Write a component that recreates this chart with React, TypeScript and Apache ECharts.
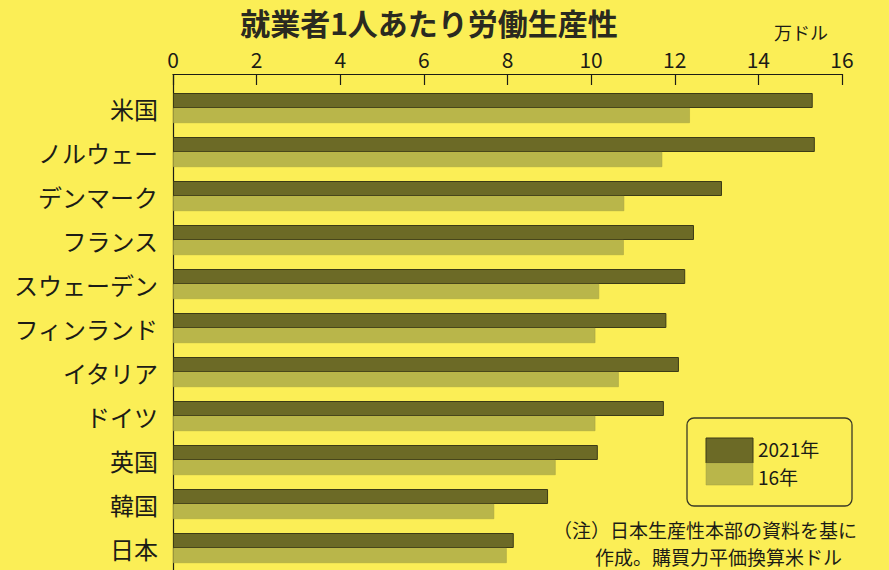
import React, { useEffect, useRef } from "react";
import * as echarts from "echarts";

const categories = ["米国", "ノルウェー", "デンマーク", "フランス", "スウェーデン", "フィンランド", "イタリア", "ドイツ", "英国", "韓国", "日本"];
const values2021 = [15.3, 15.35, 13.13, 12.46, 12.25, 11.8, 12.1, 11.74, 10.16, 8.97, 8.15];
const values2016 = [12.36, 11.7, 10.79, 10.78, 10.19, 10.1, 10.66, 10.1, 9.15, 7.68, 7.98];
const seriesNames = ["2021年", "16年"];
const xTicks = { min: 0, max: 16, interval: 2 };
const noteLines = ["（注）日本生産性本部の資料を基に", "作成。購買力平価換算米ドル"];

const BG = "#fbee56";
const DARK = "#6c6a26";
const LIGHT = "#b9b64a";
const INK = "#1c1c16";
const JP = "'Noto Sans CJK JP', 'Noto Sans', sans-serif";
const NUM = "'Liberation Sans Narrow', 'Noto Sans CJK JP', sans-serif";

export default function App() {
  const ref = useRef<HTMLDivElement>(null);
  useEffect(() => {
    document.body.style.margin = "0";
    const chart = echarts.init(ref.current!, undefined, { renderer: "svg" });
    chart.setOption({
      animation: false,
      backgroundColor: BG,
      textStyle: { fontFamily: JP },
      grid: { left: 173, top: 86, width: 669, height: 486, containLabel: false },
      xAxis: {
        type: "value",
        position: "top",
        min: xTicks.min,
        max: xTicks.max,
        interval: xTicks.interval,
        offset: 12,
        axisLine: { show: true, lineStyle: { color: INK, width: 1.2 } },
        axisTick: { show: true, inside: true, length: 11, lineStyle: { color: INK, width: 1.2 } },
        axisLabel: { color: INK, fontSize: 21, fontFamily: NUM, margin: 5 },
        splitLine: { show: false },
      },
      yAxis: {
        type: "category",
        data: categories,
        inverse: true,
        axisLine: { show: true, lineStyle: { color: INK, width: 1.2 } },
        axisTick: { show: false },
        axisLabel: { color: INK, fontSize: 24, margin: 15, fontFamily: JP },
      },
      series: [
        {
          name: seriesNames[0],
          type: "bar",
          data: values2021,
          barWidth: 15,
          barGap: "0%",
          itemStyle: { color: DARK, borderColor: "#3c3b16", borderWidth: 1 },
        },
        {
          name: seriesNames[1],
          type: "bar",
          data: values2016,
          barWidth: 15,
          barGap: "0%",
          itemStyle: { color: LIGHT, borderColor: "#a29f40", borderWidth: 0.5 },
        },
      ],
      graphic: [
        {
          type: "text",
          x: 429,
          y: 22,
          style: {
            text: "就業者1人あたり労働生産性",
            fontSize: 30,
            fontWeight: "bold",
            fill: "#2a2a20",
            fontFamily: JP,
            align: "center",
            verticalAlign: "middle",
          },
        },
        {
          type: "text",
          x: 774,
          y: 32,
          style: { text: "万ドル", fontSize: 18, fill: INK, fontFamily: JP, verticalAlign: "middle" },
        },
        {
          type: "line",
          shape: { x1: 173.5, y1: 74, x2: 173.5, y2: 86 },
          style: { stroke: INK, lineWidth: 1.2 },
        },
        {
          type: "rect",
          shape: { x: 687, y: 418, width: 165, height: 88, r: 7 },
          style: { fill: "transparent", stroke: "#3a3a26", lineWidth: 1.3 },
        },
        {
          type: "rect",
          shape: { x: 706, y: 438, width: 47, height: 25 },
          style: { fill: DARK, stroke: "#3c3b16", lineWidth: 1 },
        },
        {
          type: "rect",
          shape: { x: 706, y: 463, width: 47, height: 22 },
          style: { fill: LIGHT, stroke: "#a29f40", lineWidth: 0.5 },
        },
        {
          type: "text",
          x: 758,
          y: 448,
          style: { text: seriesNames[0], fontSize: 19, fill: INK, fontFamily: JP, verticalAlign: "middle" },
        },
        {
          type: "text",
          x: 758,
          y: 476,
          style: { text: seriesNames[1], fontSize: 19, fill: INK, fontFamily: JP, verticalAlign: "middle" },
        },
        {
          type: "text",
          x: 553,
          y: 529,
          style: { text: noteLines[0], fontSize: 19, fill: INK, fontFamily: JP, verticalAlign: "middle" },
        },
        {
          type: "text",
          x: 595,
          y: 556,
          style: { text: noteLines[1], fontSize: 19, fill: INK, fontFamily: JP, verticalAlign: "middle" },
        },
      ],
    });
    return () => chart.dispose();
  }, []);
  return <div ref={ref} style={{ width: 889, height: 570 }} />;
}
